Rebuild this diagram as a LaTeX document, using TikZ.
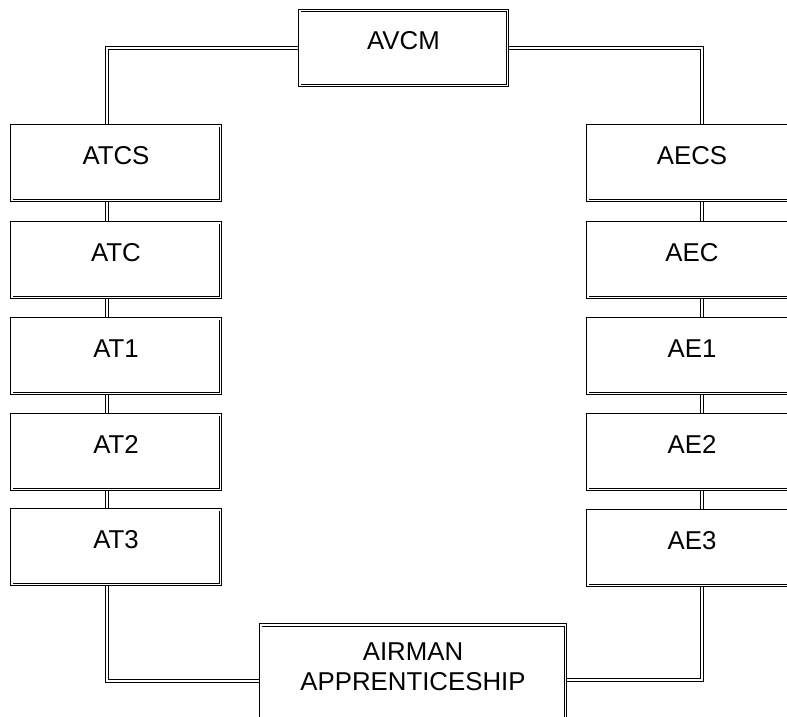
\documentclass[tikz,border=0pt]{standalone}
\usepackage{fontspec}
\setmainfont{Liberation Sans}
\usetikzlibrary{backgrounds}
\begin{document}
\begin{tikzpicture}[x=1pt,y=-1pt,
  dbl/.style={draw=black, line width=0.9pt, double=white, double distance=1.6pt},
  txt/.style={font=\fontsize{25.8}{30}\selectfont},
  box/.style={dbl, fill=white, rectangle, inner xsep=0pt, inner ysep=0pt,
    minimum width=208.6pt, text height=38.6pt, text depth=36pt, txt},
  conn/.style={dbl}]
\useasboundingbox (0,0) rectangle (787,717);
\clip (0,0) rectangle (787,717);

\node[box, minimum width=207.6pt] (avcm) at (403.5,48) {AVCM};

\node[box] (atcs) at (116,163) {ATCS};
\node[box] (atc)  at (116,260) {ATC};
\node[box] (at1)  at (116,356) {AT1};
\node[box] (at2)  at (116,452) {AT2};
\node[box] (at3)  at (116,547) {AT3};

\node[box] (aecs) at (692,163) {AECS};
\node[box] (aec)  at (692,260) {AEC};
\node[box] (ae1)  at (692,356) {AE1};
\node[box] (ae2)  at (692,452) {AE2};
\node[box] (ae3)  at (692,548) {AE3};

\node[dbl, fill=white, rectangle, inner sep=0pt, minimum width=304.6pt,
  minimum height=110pt, anchor=north] (app) at (413,624.7) {};
\node[txt, align=center, anchor=north, inner sep=0pt] (apptext) at (413,642.8)
  {AIRMAN\\APPRENTICESHIP};

\coordinate (lx) at (107,0);
\coordinate (rx) at (702,0);
\coordinate (lby) at (0,681);
\coordinate (rby) at (0,680);

\begin{scope}[on background layer]
  \draw[conn] (avcm.west) -| (atcs.north -| lx);
  \draw[conn] (avcm.east) -| (aecs.north -| rx);
  \draw[conn] (atcs.south -| lx) -- (atc.north -| lx);
  \draw[conn] (atc.south -| lx) -- (at1.north -| lx);
  \draw[conn] (at1.south -| lx) -- (at2.north -| lx);
  \draw[conn] (at2.south -| lx) -- (at3.north -| lx);
  \draw[conn] (aecs.south -| rx) -- (aec.north -| rx);
  \draw[conn] (aec.south -| rx) -- (ae1.north -| rx);
  \draw[conn] (ae1.south -| rx) -- (ae2.north -| rx);
  \draw[conn] (ae2.south -| rx) -- (ae3.north -| rx);
  \draw[conn] (at3.south -| lx) |- (lby -| app.west);
  \draw[conn] (ae3.south -| rx) |- (rby -| app.east);
\end{scope}
\end{tikzpicture}
\end{document}
